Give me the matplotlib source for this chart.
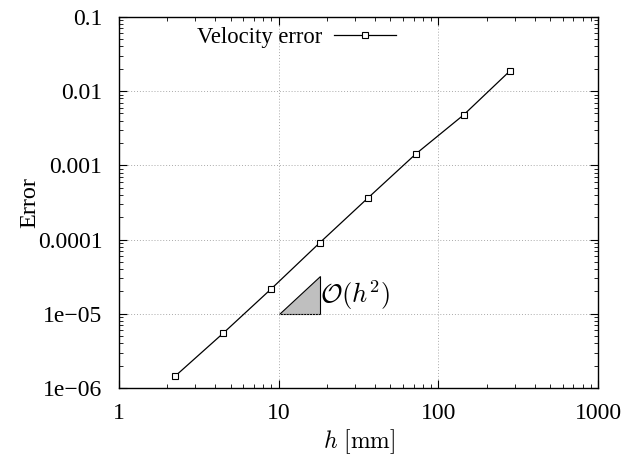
import numpy as np
import matplotlib.pyplot as plt
from matplotlib.patches import Polygon

plt.rcParams['font.family'] = ['Liberation Serif', 'DejaVu Serif']
plt.rcParams['mathtext.fontset'] = 'cm'

h_mm = [2.25, 4.5, 9.0, 18.0, 36.0, 72.0, 144.0, 280.0]
vel_err = [1.45e-6, 5.5e-6, 2.18e-5, 9.0e-5, 3.6e-4, 1.42e-3, 4.8e-3, 1.87e-2]

# slope triangle O(h^2)
tri_x = [10.0, 18.0]
tri_y0 = 1e-5

fig = plt.figure(figsize=(6.27, 4.58), dpi=100)
ax = fig.add_axes([0.19, 0.153, 0.764, 0.81])

ax.plot(h_mm, vel_err, color='black', lw=0.9, marker='s', ms=5,
        mfc='white', mec='black', mew=0.8, label='Velocity error')

x0, x1 = tri_x
tri = Polygon([[x0, tri_y0], [x1, tri_y0], [x1, tri_y0 * (x1 / x0) ** 2]],
              closed=True, facecolor='#bfbfbf', edgecolor='black', lw=0.8)
ax.add_patch(tri)
ax.text(x1 * 1.0, tri_y0 * (x1 / x0) ** 1.0, r'$\mathcal{O}(h^2)$', fontsize=19,
        va='center', ha='left')

ax.set_xscale('log')
ax.set_yscale('log')
ax.set_xlim(1, 1000)
ax.set_ylim(1e-6, 0.1)
ax.set_xticks([1, 10, 100, 1000])
ax.set_xticklabels(['1', '10', '100', '1000'])
ax.set_yticks([1e-6, 1e-5, 1e-4, 1e-3, 1e-2, 1e-1])
ax.set_yticklabels(['1e\u221206', '1e\u221205', '0.0001', '0.001', '0.01', '0.1'])
ax.tick_params(which='both', direction='in', top=True, right=True, labelsize=17)
ax.tick_params(which='major', length=6, pad=11)
ax.tick_params(axis='y', which='major', pad=12)
ax.tick_params(which='minor', length=3)
ax.grid(True, which='major', linestyle=(0, (1, 2)), color='#aaaaaa', lw=0.7)
for s in ax.spines.values():
    s.set_linewidth(1.0)

ax.set_xlabel(r'$h\ [\mathrm{mm}]$', fontsize=17, labelpad=2)
ax.set_ylabel('Error', fontsize=17.5, labelpad=-1.5)

ax.legend(loc='upper left', bbox_to_anchor=(0.12, 1.028), frameon=False,
          markerfirst=False, fontsize=16.3, handlelength=2.75, handletextpad=0.5)

fig.savefig('out.png', dpi=100)
